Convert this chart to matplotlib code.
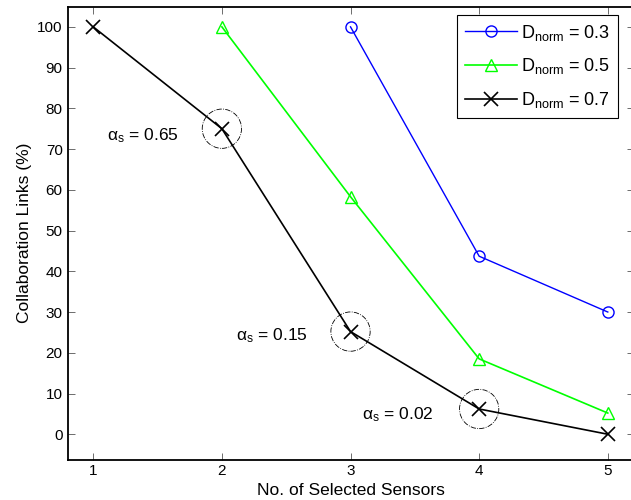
import matplotlib
matplotlib.use("Agg")
import matplotlib.pyplot as plt

plt.rcParams['font.family'] = ['Liberation Sans', 'DejaVu Sans']
plt.rcParams['mathtext.fontset'] = 'custom'
plt.rcParams['mathtext.rm'] = 'Liberation Sans'
plt.rcParams['mathtext.it'] = 'Liberation Sans'
plt.rcParams['font.size'] = 11

# Данные
x_03 = [3, 4, 5]
y_03 = [100, 43.7, 30]
x_05 = [2, 3, 4, 5]
y_05 = [100, 58.3, 18.5, 5.2]
x_07 = [1, 2, 3, 4, 5]
y_07 = [100, 75, 25.2, 6.2, 0]

# Отмеченные точки и подписи
mark_x = [2, 3, 4]
mark_y = [75, 25.2, 6.2]
mark_labels = ['0.65', '0.15', '0.02']
label_x = [1.385, 2.39, 3.37]
label_y = [72.2, 23.1, 3.7]

fig = plt.figure(figsize=(6.31, 5.0), dpi=100)
ax = fig.add_axes([0.107, 0.081, 0.897, 0.906])

ax.plot(x_03, y_03, color='blue', marker='o', markersize=8, markerfacecolor='none',
        linewidth=1.0, label=r'$\mathregular{D_{norm}}$ = 0.3')
ax.plot(x_05, y_05, color='#00ff00', marker='^', markersize=9, markerfacecolor='none',
        linewidth=1.2, label=r'$\mathregular{D_{norm}}$ = 0.5')
ax.plot(x_07, y_07, color='black', marker='x', markersize=10, markeredgewidth=1.2,
        linewidth=1.2, label=r'$\mathregular{D_{norm}}$ = 0.7')

# пунктирные окружности вокруг отмеченных точек
ax.scatter(mark_x, mark_y, s=800, facecolors='none', edgecolors='black',
           linewidths=0.6, linestyles='-.', zorder=3)

for lx, ly, lab in zip(label_x, label_y, mark_labels):
    ax.text(lx, ly, r'$\mathregular{\alpha_s}$ = ' + lab, ha='center', va='baseline', fontsize=12.5)

ax.set_xlim(0.8, 5.2)
ax.set_ylim(-6.2, 105)
ax.set_xticks([1, 2, 3, 4, 5])
ax.set_yticks(range(0, 101, 10))
ax.tick_params(direction='in', top=True, right=True, length=5, width=0.6, color='#555555')
for sp in ax.spines.values():
    sp.set_linewidth(1.3)

ax.set_xlabel('No. of Selected Sensors', labelpad=3, fontsize=12.5)
ax.set_ylabel('Collaboration Links (%)', labelpad=4, fontsize=12.5)

leg = ax.legend(loc='upper right', bbox_to_anchor=(0.973, 0.982), borderaxespad=0,
                fancybox=False, framealpha=1, edgecolor='black', handlelength=2.9,
                borderpad=0.45, labelspacing=0.75, handletextpad=0.2, fontsize=13)
leg.get_frame().set_linewidth(0.8)

fig.savefig('out.png', dpi=100)
